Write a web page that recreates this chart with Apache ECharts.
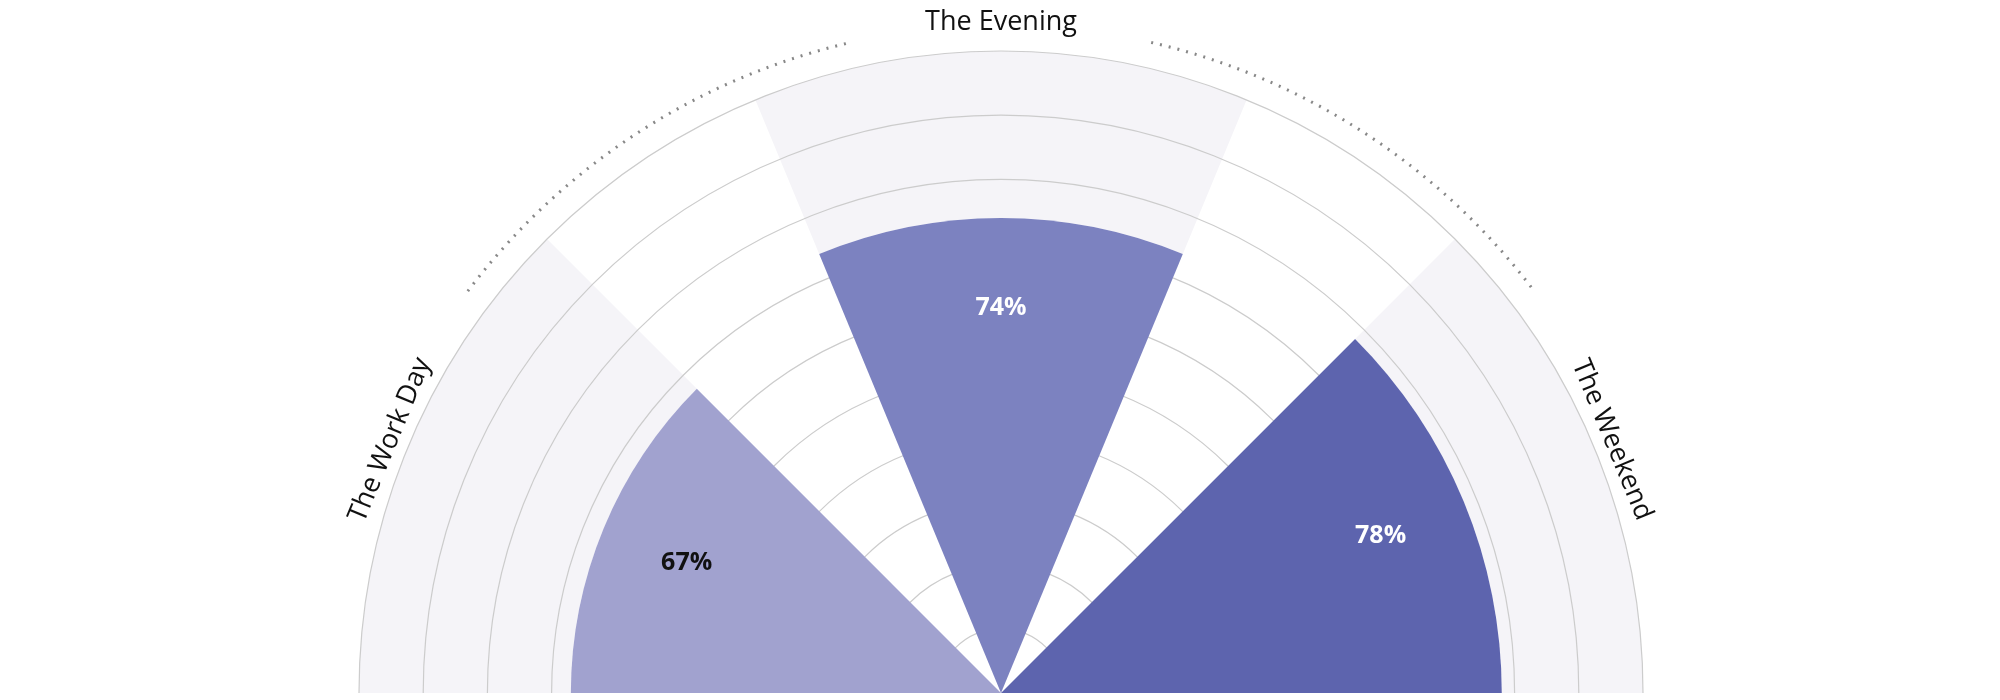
<!DOCTYPE html>
<html><head><meta charset="utf-8">
<script src="https://cdn.jsdelivr.net/npm/echarts@6/dist/echarts.min.js"></script>
<style>html,body{margin:0;padding:0;background:#fff}#c{width:2000px;height:700px}</style>
</head><body><div id="c"></div>
<script>
const categories = ['The Work Day', 'The Evening', 'The Weekend'];
const values = [67, 74, 78];
const spanStart = [135, 67.5, 0];
const spanEnd = [180, 112.5, 45];
const labels = ['67%', '74%', '78%'];
const ringTicks = [10, 20, 30, 40, 50, 60, 70, 80, 90, 100];
const dotStart = [103, 37];
const dotEnd = [143, 77];

const colors = ['#a1a2cf', '#7c82c0', '#5d64ae'];
const labelColors = ['#111', '#fff', '#fff'];
const FONT = '"Open Sans", "Noto Sans", sans-serif';
const D = Math.PI / 180;

function geo(api, v) {
  const o = api.coord([0, 0]);
  const c = api.coord([v, 0]);
  return { cx: o[0], cy: o[1], r: Math.hypot(c[0] - o[0], c[1] - o[1]) };
}

const chart = echarts.init(document.getElementById('c'));
chart.setOption({
  animation: false,
  polar: { center: [1001, 693], radius: 642 },
  angleAxis: { type: 'value', min: 0, max: 360, startAngle: 0, clockwise: false, show: false },
  radiusAxis: { type: 'value', min: 0, max: 100, show: false },
  series: [
    { // grey bands
      type: 'custom', coordinateSystem: 'polar', silent: true, z: 1,
      data: values.map((v, i) => [v, spanStart[i]]),
      renderItem: (p, api) => {
        const i = p.dataIndex;
        const g0 = geo(api, values[i]), g1 = geo(api, 100);
        return { type: 'sector', shape: { cx: g0.cx, cy: g0.cy, r0: g0.r, r: g1.r,
          startAngle: -spanEnd[i] * D, endAngle: -spanStart[i] * D, clockwise: true },
          style: { fill: '#f5f4f8' } };
      }
    },
    { // rings
      type: 'custom', coordinateSystem: 'polar', silent: true, z: 2,
      data: ringTicks.map(t => [t, 0]),
      renderItem: (p, api) => {
        const g = geo(api, ringTicks[p.dataIndex]);
        return { type: 'arc', shape: { cx: g.cx, cy: g.cy, r: g.r, startAngle: -Math.PI, endAngle: 0, clockwise: true },
          style: { stroke: '#cccccc', lineWidth: 1.2, fill: null } };
      }
    },
    { // wedges
      type: 'custom', coordinateSystem: 'polar', silent: true, z: 3,
      data: values.map((v, i) => [v, spanStart[i]]),
      renderItem: (p, api) => {
        const i = p.dataIndex;
        const g = geo(api, values[i]);
        const lg = geo(api, values[i] - 14);
        const mid = (spanStart[i] + spanEnd[i]) / 2 * D;
        return { type: 'group', children: [
          { type: 'sector', shape: { cx: g.cx, cy: g.cy, r0: 0, r: g.r,
            startAngle: -spanEnd[i] * D, endAngle: -spanStart[i] * D, clockwise: true },
            style: { fill: colors[i] } },
          { type: 'text', x: g.cx + lg.r * Math.cos(mid), y: g.cy - lg.r * Math.sin(mid),
            style: { text: labels[i], fill: labelColors[i], font: 'bold 25px ' + FONT,
              align: 'center', verticalAlign: 'middle' } }
        ] };
      }
    },
    { // category labels
      type: 'custom', coordinateSystem: 'polar', silent: true, z: 4,
      data: categories.map((c, i) => [103, spanStart[i]]),
      renderItem: (p, api) => {
        const i = p.dataIndex;
        const mid = (spanStart[i] + spanEnd[i]) / 2;
        const g = geo(api, i === 1 ? 104.5 : 103);
        return { type: 'text', x: g.cx + g.r * Math.cos(mid * D), y: g.cy - g.r * Math.sin(mid * D),
          rotation: (mid - 90) * D,
          style: { text: categories[i], fill: '#111', font: '27px ' + FONT,
            align: 'center', verticalAlign: 'middle' } };
      }
    },
    { // dotted arcs
      type: 'custom', coordinateSystem: 'polar', silent: true, z: 4,
      data: dotStart.map((s) => [104, s]),
      renderItem: (p, api) => {
        const i = p.dataIndex;
        const g = geo(api, 104);
        return { type: 'arc', shape: { cx: g.cx, cy: g.cy, r: g.r,
          startAngle: -dotEnd[i] * D, endAngle: -dotStart[i] * D, clockwise: true },
          style: { stroke: '#888', lineWidth: 3, lineDash: [2, 7], fill: null } };
      }
    }
  ]
});
</script></body></html>
